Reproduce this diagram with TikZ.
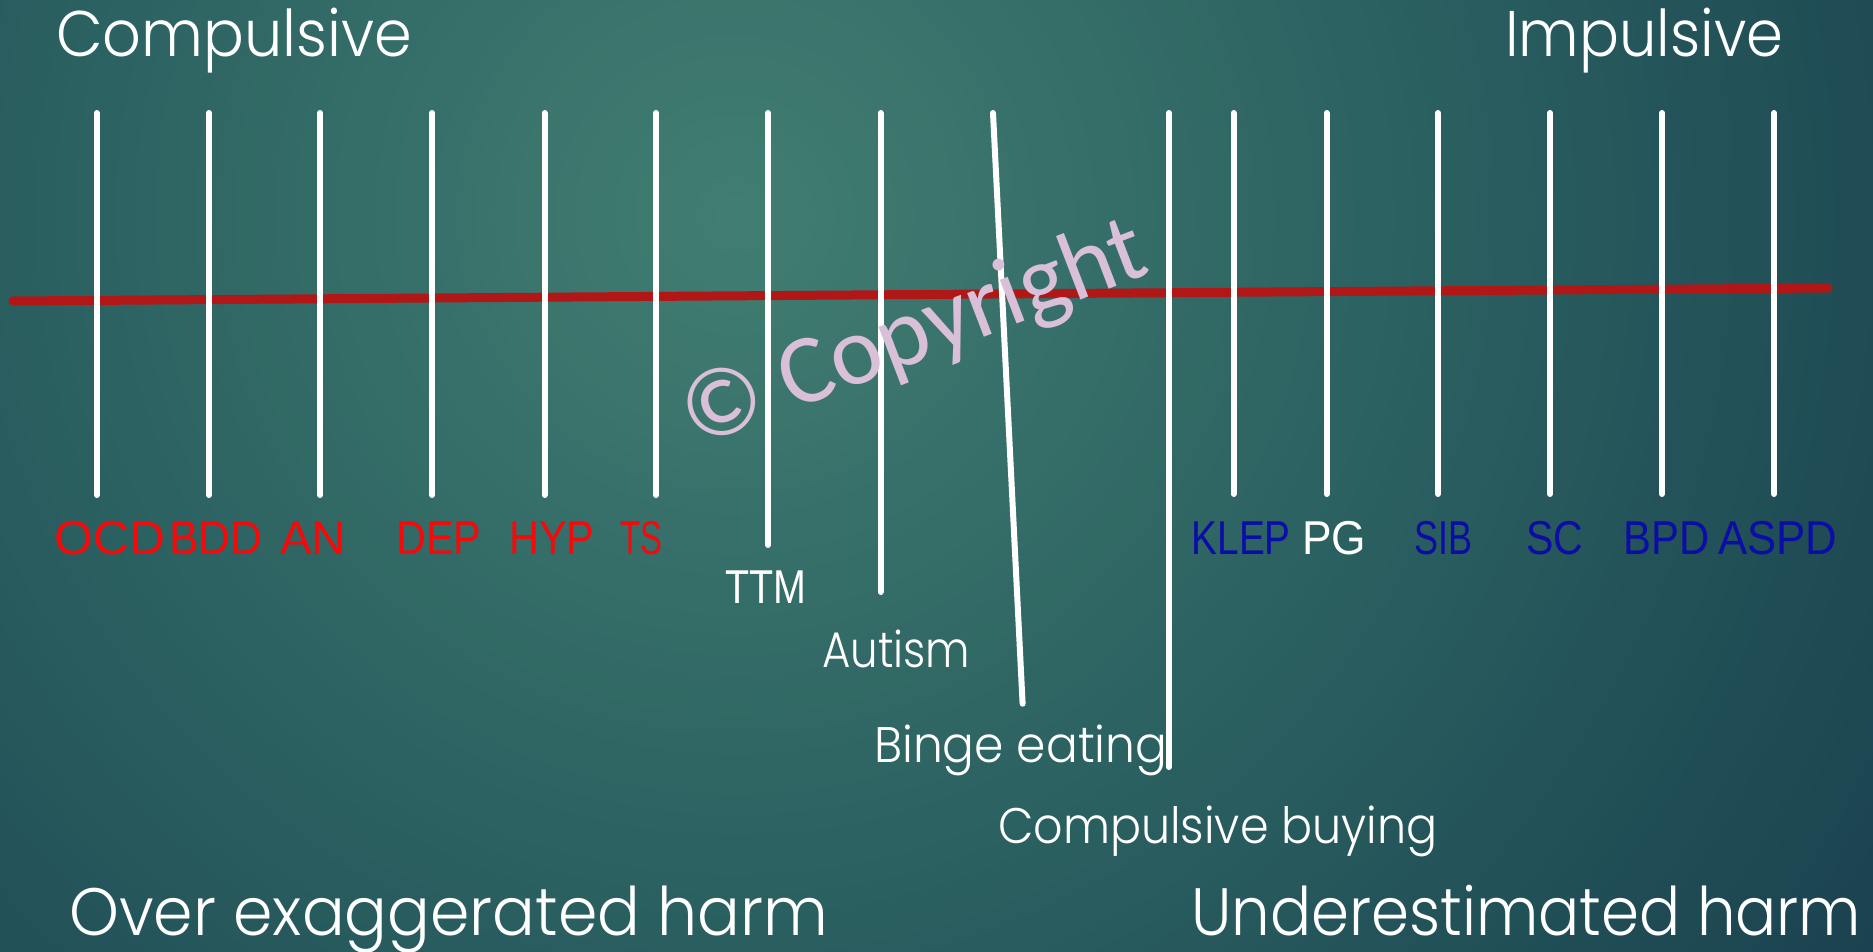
\documentclass[tikz,border=0pt]{standalone}
\usepackage{fontspec}
\setmainfont{Poppins}[UprightFont=* Light]
\newfontfamily\labfont{Liberation Sans}
\newfontfamily\wmfont{Carlito}
\definecolor{bgin}{HTML}{427E72}
\definecolor{bgmid}{HTML}{2A5F60}
\definecolor{bgout}{HTML}{183F4D}
\definecolor{lred}{HTML}{F80808}
\definecolor{lblue}{HTML}{0C0CA6}
\definecolor{axisred}{HTML}{B21717}
\definecolor{wmcol}{HTML}{D9BFD8}
\newcommand{\fitw}[2]{\resizebox{#1}{\height}{#2}}
\begin{document}
\begin{tikzpicture}[x=1pt,y=-1pt,
  tickline/.style={draw=white,line width=6pt,line cap=round},
  axisline/.style={draw=axisred,line width=9pt,line cap=round},
  headtxt/.style={inner sep=0pt,anchor=base west,text=white,font=\fontsize{64.5}{70}\selectfont},
  midtxt/.style={inner sep=0pt,anchor=base west,text=white,font=\fontsize{50}{55}\selectfont},
  lab/.style={inner sep=0pt,anchor=base west,font=\labfont\fontsize{47.5}{50}\selectfont},
  redlab/.style={lab,text=lred},
  bluelab/.style={lab,text=lblue},
  whitelab/.style={lab,text=white},
  wmtxt/.style={inner sep=0pt,anchor=base,text=wmcol,font=\wmfont\fontsize{98}{100}\selectfont}]
\useasboundingbox (0,0) rectangle (1873,951);
% background: radial gradient built from concentric rings
\begin{scope}
\clip (0,0) rectangle (1873,951);
\fill[bgout] (0,0) rectangle (1873,951);
\coordinate (bgc) at (735,215);
\foreach \i in {0,...,71}{
  \pgfmathsetmacro{\r}{1440-20*\i}
  \pgfmathsetmacro{\pa}{max(0,min(100,(\r-720)/7.2))}
  \pgfmathsetmacro{\pb}{max(0,min(100,\r/7.2))}
  \colorlet{tmpc}{bgmid!\pb!bgin}
  \colorlet{ringc}{bgout!\pa!tmpc}
  \fill[ringc] (bgc) circle (\r pt);
}
\end{scope}
% axis
\coordinate (axL) at (13,301);
\coordinate (axR) at (1828,288);
\draw[axisline] (axL) -- (axR);
% ticks
\foreach \n/\x/\yb in {1/96.8/495,2/209/495,3/320/495,4/432/495,5/544.5/495,6/656/495,
  7/768/545,8/880.5/592,10/1169/767,11/1233.5/494,12/1326.6/494,13/1438/494,14/1550/494,15/1662/494,16/1774/494}{
  \coordinate (t\n) at (\x,113);
  \coordinate (b\n) at (\x,\yb);
  \draw[tickline] (t\n) -- (b\n);
}
\coordinate (t9) at (993,113);
\coordinate (b9) at (1022.6,703.7);
\draw[tickline] (t9) -- (b9);
% headings
\node[headtxt] (hcomp) at (56,56.7) {\fitw{356pt}{Compulsive}};
\node[headtxt] (himp) at (1505,56.7) {\fitw{278pt}{Impulsive}};
\node[headtxt,font=\fontsize{67}{72}\selectfont] (hover) at (69,935) {\fitw{759pt}{Over exaggerated harm}};
\node[headtxt,font=\fontsize{67}{72}\selectfont] (hunder) at (1191,935) {\fitw{670pt}{Underestimated harm}};
% labels
\node[redlab] (ocd) at (54.5,554) {\fitw{110.5pt}{OCD}};
\node[redlab] (bdd) at (169,554) {\fitw{93.5pt}{BDD}};
\node[redlab] (an) at (280,554) {\fitw{66pt}{AN}};
\node[redlab] (dep) at (396,554) {\fitw{85pt}{DEP}};
\node[redlab] (hyp) at (509,554) {\fitw{85pt}{HYP}};
\node[redlab] (ts) at (620,554) {\fitw{42pt}{TS}};
\node[whitelab] (ttm) at (725,603) {\fitw{81pt}{TTM}};
\node[midtxt] (aut) at (822,667) {\fitw{148pt}{Autism}};
\node[midtxt] (binge) at (874,762) {\fitw{293pt}{Binge eating}};
\node[midtxt] (cbuy) at (998,843) {\fitw{439pt}{Compulsive buying}};
\node[bluelab] (klep) at (1191.5,554) {\fitw{99pt}{KLEP}};
\node[whitelab] (pg) at (1302,554) {\fitw{64pt}{PG}};
\node[bluelab] (sib) at (1414,554) {\fitw{58pt}{SIB}};
\node[bluelab] (sc) at (1526,554) {\fitw{57pt}{SC}};
\node[bluelab] (bpd) at (1623,554) {\fitw{86pt}{BPD}};
\node[bluelab] (aspd) at (1718,554) {\fitw{119pt}{ASPD}};
% watermark
\node[wmtxt,rotate=21] (wm) at (924,360) {\fitw{490pt}{© Copyright}};
\end{tikzpicture}
\end{document}
